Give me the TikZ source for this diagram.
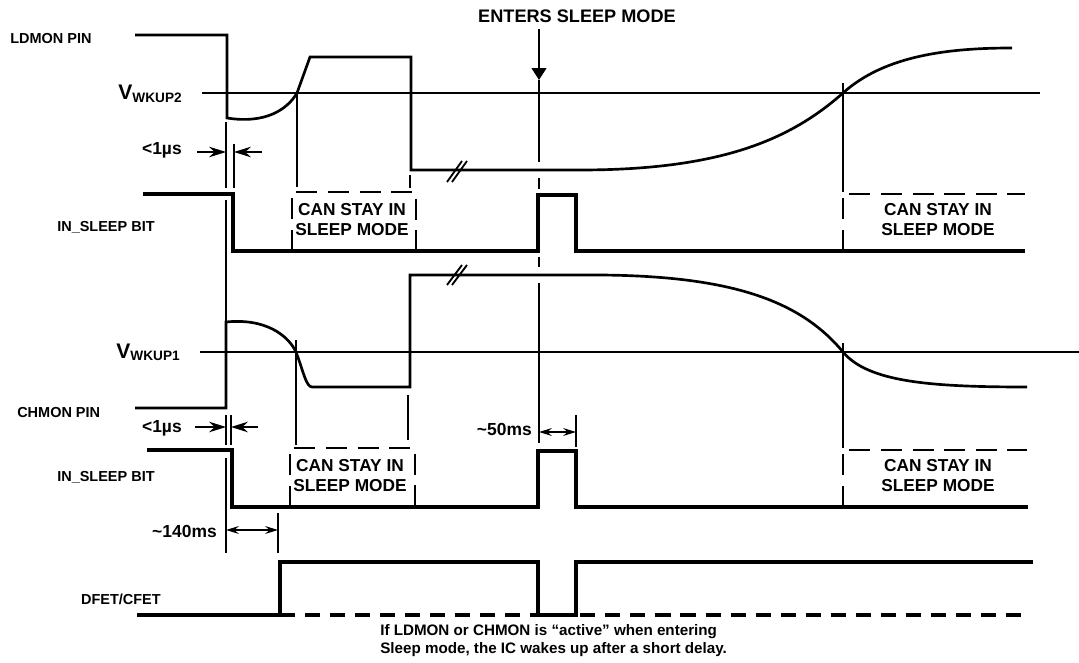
\documentclass[tikz,border=0pt]{standalone}
\usepackage{fontspec}
\setmainfont{Liberation Sans}
\usetikzlibrary{arrows.meta}

\begin{document}
\begin{tikzpicture}[x=0.025cm,y=-0.025cm,
  sig/.style={line width=1.9pt},
  dig/.style={line width=2.3pt},
  guide/.style={line width=1.3pt},
  level/.style={line width=1.4pt},
  boxdash/.style={line width=2.1pt, dash pattern=on 15pt off 7.5pt},
  lbl/.style={font=\bfseries\fontsize{10.3}{12}\selectfont, inner sep=0pt},
  tlbl/.style={font=\bfseries\fontsize{12.4}{14}\selectfont, inner sep=0pt},
  boxtxt/.style={font=\bfseries\fontsize{12.3}{14.2}\selectfont, align=center, inner sep=0pt},
  dimtip/.style={-{Stealth[length=12pt,width=7.5pt]}},
  gaptip/.style={{Stealth[length=9pt,width=5.5pt]}-{Stealth[length=9pt,width=5.5pt]}}]
\useasboundingbox (0,0) rectangle (1079,663);
% signal names
\node[lbl,anchor=base west] (ldmon) at (10,44) {LDMON PIN};
\node[lbl,anchor=base west] (sleepa) at (57,232) {IN\_SLEEP BIT};
\node[lbl,anchor=base west] (chmon) at (17,417) {CHMON PIN};
\node[lbl,anchor=base west] (sleepb) at (57,481) {IN\_SLEEP BIT};
\node[lbl,anchor=base east] (fet) at (161,604) {DFET/CFET};
% thresholds
\node[anchor=base east,inner sep=0pt,font=\bfseries\fontsize{15}{17}\selectfont] (vwka) at (182,100) {V{\fontsize{9.7}{10}\selectfont\raisebox{-1.5pt}{WKUP2}}};
\node[anchor=base east,inner sep=0pt,font=\bfseries\fontsize{15}{17}\selectfont] (vwkb) at (180,358) {V{\fontsize{9.7}{10}\selectfont\raisebox{-1.5pt}{WKUP1}}};
\draw[level] (202,93) -- (1040,93);
\draw[level] (200,352) -- (1079,352);
% LDMON pin
\draw[sig] (135,35) -- (227,35) -- (227,118) .. controls (265,124) and (287,110) .. (297,93) -- (310,57) -- (411,57) -- (411,170) -- (580,170) .. controls (720,170) and (790,140) .. (843,93) .. controls (885,55) and (950,48) .. (1012,48);
\draw[guide] (447,182) -- (462,161);
\draw[guide] (452,182) -- (467,161);
% CHMON pin
\draw[sig] (135,408) -- (226,408) -- (226,322) .. controls (265,318) and (288,335) .. (296,352) .. controls (303,370) and (306,387) .. (312,387) -- (410,387) -- (410,275) -- (600,275) .. controls (730,276) and (800,300) .. (843,352) .. controls (868,382) and (930,387) .. (1027,387);
\draw[guide] (447,285) -- (462,265);
\draw[guide] (452,285) -- (467,265);
% IN_SLEEP bits
\draw[dig] (143,194) -- (233,194) -- (233,251) -- (538,251) -- (538,195) -- (576,195) -- (576,251) -- (1025,251);
\draw[dig] (147,450) -- (232,450) -- (232,507) -- (538,507) -- (538,451) -- (576,451) -- (576,507) -- (1028,507);
% DFET/CFET
\draw[dig] (137,615) -- (280,615) -- (280,562) -- (538,562) -- (538,615) -- (576,615) -- (576,562) -- (1033,562);
\draw[dig,dash pattern=on 10.7pt off 7.1pt] (280,615) -- (1030,615);
% guide lines
\draw[guide] (226,122) -- (226,188);
\draw[guide] (234,144) -- (234,188);
\draw[guide] (226,200) -- (226,322);
\draw[guide] (297,93) -- (297,187);
\draw[guide] (410,175) -- (410,188);
\draw[guide] (843,83) -- (843,192);
\draw[guide] (296,340) -- (296,445);
\draw[guide] (408,395) -- (408,440);
\draw[guide] (843,343) -- (843,448);
\draw[guide] (226,415) -- (226,445);
\draw[guide] (231,415) -- (231,445);
\draw[guide] (226,458) -- (226,553);
\draw[guide] (278,513) -- (278,553);
\draw[guide] (576,415) -- (576,447);
% enters sleep mode
\node[inner sep=0pt,anchor=base,font=\bfseries\fontsize{12.9}{15}\selectfont] (enter) at (577,23) {ENTERS SLEEP MODE};
\draw[guide,-{Triangle[length=8.5pt,width=10.5pt]}] (539,29) -- (539,80);
\draw[guide] (539,80) -- (539,162);
\draw[guide] (539,178) -- (539,189);
\draw[guide] (539,257) -- (539,267);
\draw[guide] (539,283) -- (539,443);
% <1us
\node[tlbl,anchor=base east] (usa) at (182,155) {<1µs};
\draw[guide,dimtip] (197,152) -- (226,152);
\draw[guide,dimtip] (262,152) -- (234,152);
\node[tlbl,anchor=base east] (usb) at (182,432) {<1µs};
\draw[guide,dimtip] (195,427) -- (226,427);
\draw[guide,dimtip] (258,427) -- (231,427);
% ~140ms, ~50ms
\node[tlbl,anchor=base east] (msa) at (217,537) {\textasciitilde140ms};
\draw[guide,gaptip] (226,530) -- (278,530);
\node[tlbl,anchor=base east] (msb) at (532,435) {\textasciitilde50ms};
\draw[guide,gaptip] (539,432) -- (576,432);
% can stay in sleep mode
\draw[boxdash] (292,251) -- (292,192) -- (416,192) -- (416,251);
\draw[boxdash] (290,507) -- (290,448) -- (415,448) -- (415,507);
\draw[boxdash] (843,251) -- (843,194) -- (1025,194);
\draw[boxdash] (843,507) -- (843,450) -- (1027,450);
\node[boxtxt] (staya) at (352,220) {CAN STAY IN\\SLEEP MODE};
\node[boxtxt] (stayb) at (350,476) {CAN STAY IN\\SLEEP MODE};
\node[boxtxt] (stayc) at (938,220) {CAN STAY IN\\SLEEP MODE};
\node[boxtxt] (stayd) at (938,476) {CAN STAY IN\\SLEEP MODE};
% note
\node[anchor=north west,inner sep=0pt,align=left,font=\bfseries\fontsize{10.8}{12.8}\selectfont] (note) at (380,624) {If LDMON or CHMON is “active” when entering\\Sleep mode, the IC wakes up after a short delay.};
\end{tikzpicture}
\end{document}
